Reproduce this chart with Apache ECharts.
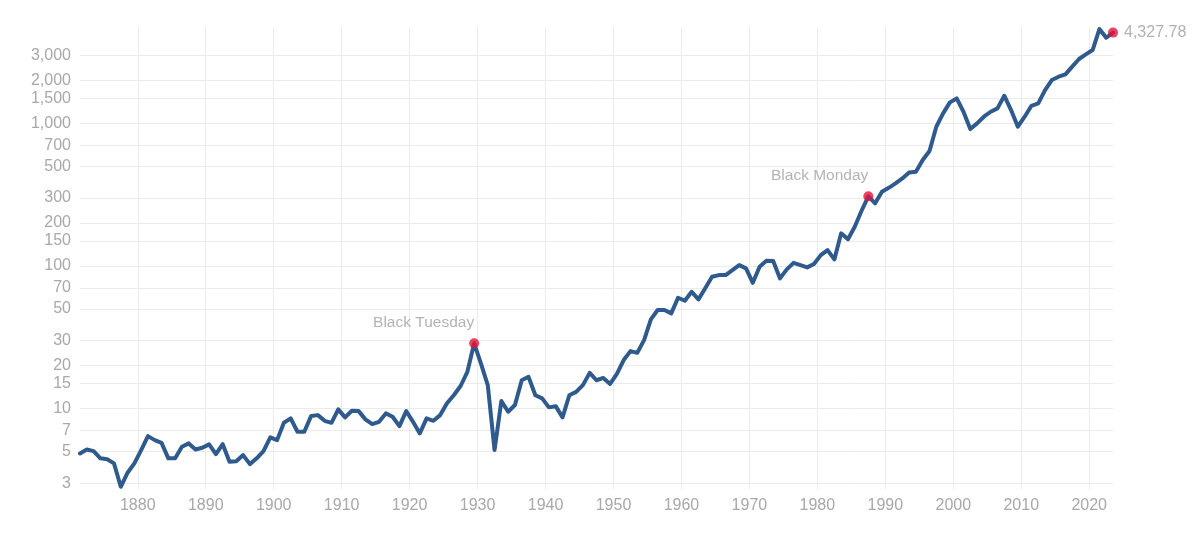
<!DOCTYPE html>
<html>
<head>
<meta charset="utf-8">
<script src="https://cdn.jsdelivr.net/npm/echarts@6/dist/echarts.min.js"></script>
<style>
  html, body { margin: 0; padding: 0; background: #ffffff; }
  #chart { width: 1200px; height: 540px; }
</style>
</head>
<body>
<div id="chart"></div>
<script>
// Years of the annual observations
const years = [];
for (let y = 1871; y <= 2023; y++) years.push(y);

// Index level, one per year 1871..2023
const values = [
  4.85, 5.17, 5.03, 4.48, 4.41, 4.13, 2.83, 3.55, 4.13,             // 1871-1879
  5.12, 6.41, 6.01, 5.75, 4.48, 4.48, 5.40, 5.70, 5.17, 5.31,       // 1880-1889
  5.61, 4.80, 5.63, 4.24, 4.28, 4.72, 4.08, 4.48, 5.03, 6.28,       // 1890-1899
  6.01, 7.95, 8.54, 6.88, 6.88, 8.86, 9.00, 8.21, 7.95, 9.87,       // 1900-1909
  8.68, 9.65, 9.60, 8.40, 7.79, 8.08, 9.25, 8.76, 7.54, 9.60,       // 1910-1919
  8.08, 6.70, 8.54, 8.21, 9.00, 10.9, 12.4, 14.4, 18.1, 28.7,       // 1920-1929
  20.7, 14.6, 5.12, 11.3, 9.50, 10.6, 15.8, 16.7, 12.4, 11.8,       // 1930-1939
  10.2, 10.4, 8.68, 12.4, 13.1, 14.6, 17.8, 15.8, 16.4, 14.9,       // 1940-1949
  17.5, 21.9, 25.3, 24.6, 30.2, 42.2, 49.1, 49.1, 46.5, 59.9,       // 1950-1959
  57.0, 65.9, 58.3, 69.7, 84.0, 86.3, 86.3, 93.5, 101.4, 96.2,      // 1960-1969
  76.2, 98.7, 108.7, 108.2, 81.8, 94.6, 105.2, 101.4, 97.7, 103.1,  // 1970-1979
  119.1, 129.3, 111.2, 169.4, 153.8, 188.5, 243.9, 308, 274.8, 331.4, // 1980-1989
  353, 379, 411, 453, 458, 553, 640, 947, 1175, 1403,               // 1990-1999
  1496, 1206, 912, 1000, 1113, 1206, 1274, 1562, 1240, 947,         // 2000-2009
  1113, 1328, 1380, 1711, 2012, 2123, 2206, 2497, 2826, 3048,       // 2010-2019
  3267, 4585, 3983, 4327.78                                         // 2020-2023
];

// Highlighted events
const eventYears = [1929, 1987, 2023];
const eventLabels = ['Black Tuesday', 'Black Monday', '4,327.78'];

// Axis ticks
const xTicks = [1880, 1890, 1900, 1910, 1920, 1930, 1940, 1950, 1960, 1970, 1980, 1990, 2000, 2010, 2020];
const yTicks = [3, 5, 7, 10, 15, 20, 30, 50, 70, 100, 150, 200, 300, 500, 700, 1000, 1500, 2000, 3000];

const FONT = '"Liberation Sans", Arial, sans-serif';
const GRID_COLOR = '#ebebeb';
const LABEL_COLOR = '#a8a8a8';

function withCommas(v) {
  return String(v).replace(/\B(?=(\d{3})+(?!\d))/g, ',');
}

const lineData = years.map((y, i) => [y + 0.5, values[i]]);
const eventData = eventYears.map((y, k) => {
  const i = years.indexOf(y);
  const isLast = k === eventYears.length - 1;
  return {
    value: [y + 0.5, values[i]],
    label: isLast ? {
      show: true,
      position: 'right',
      distance: 6,
      formatter: eventLabels[k],
      color: '#9d9d9d',
      fontSize: 16,
      fontFamily: FONT
    } : {
      show: true,
      position: [5, -16],
      align: 'right',
      verticalAlign: 'middle',
      formatter: eventLabels[k],
      color: '#a0a0a0',
      fontSize: 15.5,
      fontFamily: FONT
    }
  };
});

const chart = echarts.init(document.getElementById('chart'), null, { renderer: 'canvas' });
chart.setOption({
  animation: false,
  backgroundColor: '#ffffff',
  grid: { left: 80, right: 87, top: 27.5, bottom: 51, containLabel: false },
  xAxis: {
    type: 'value',
    min: 1871.5,
    max: 2023.5,
    axisLine: { show: false },
    axisTick: { show: false, customValues: xTicks },
    axisLabel: {
      customValues: xTicks,
      formatter: v => String(v),
      color: LABEL_COLOR,
      fontSize: 16,
      fontFamily: FONT,
      margin: 9
    },
    splitLine: { show: true, lineStyle: { color: GRID_COLOR, width: 1 } }
  },
  yAxis: {
    type: 'log',
    logBase: 10,
    min: 2.73,
    max: 4700,
    axisLine: { show: false },
    axisTick: { show: false, customValues: yTicks },
    axisLabel: {
      customValues: yTicks,
      formatter: v => withCommas(v),
      color: LABEL_COLOR,
      fontSize: 16,
      fontFamily: FONT,
      margin: 9
    },
    splitLine: { show: true, lineStyle: { color: GRID_COLOR, width: 1 } }
  },
  series: [
    {
      type: 'line',
      data: lineData,
      showSymbol: false,
      symbol: 'none',
      lineStyle: { color: '#2e5a8e', width: 4, join: 'round', cap: 'round' },
      z: 2
    },
    {
      type: 'scatter',
      data: eventData,
      symbolSize: 10,
      itemStyle: { color: '#e5133a' },
      z: 3
    }
  ]
});
</script>
</body>
</html>
